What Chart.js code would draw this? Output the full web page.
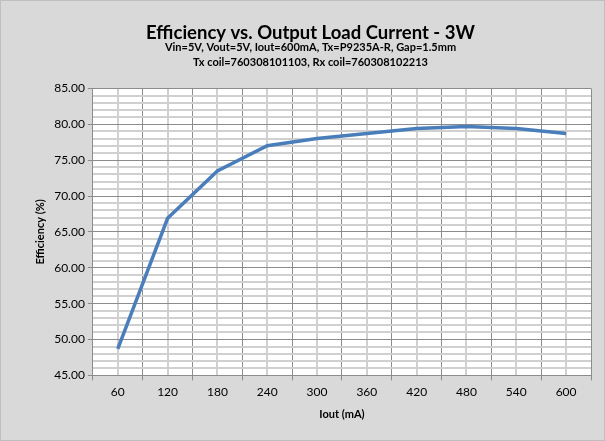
<!DOCTYPE html>
<html>
<head>
<meta charset="utf-8">
<script src="https://cdn.jsdelivr.net/npm/chart.js@4/dist/chart.umd.min.js"></script>
<style>
  html, body { margin: 0; padding: 0; background: #fff; }
  #wrap { width: 605px; height: 441px; }
</style>
</head>
<body>
<div id="wrap"><canvas id="myChart" width="605" height="441"></canvas></div>
<script>
var currentLabels = ['60', '120', '180', '240', '300', '360', '420', '480', '540', '600'];
var efficiencyValues = [48.7, 66.9, 73.5, 77.0, 78.0, 78.7, 79.4, 79.7, 79.4, 78.7];
var yMin = 45;
var yMax = 85;

// grey chart background, white plot area and the light minor grid
var backdrop = {
    id: 'backdrop',
    beforeDraw: function (chart) {
        var c = chart.ctx;
        var a = chart.chartArea;
        c.save();
        c.fillStyle = '#d9d9d9';
        c.fillRect(0, 0, chart.width, chart.height);
        c.strokeStyle = '#bfbfbf';
        c.lineWidth = 1;
        c.strokeRect(0.5, 0.5, chart.width - 1, chart.height - 1);
        c.fillStyle = '#ffffff';
        c.fillRect(a.left, a.top, a.right - a.left, a.bottom - a.top);
        c.strokeStyle = '#d0d0d0';
        c.lineWidth = 2;
        var x = chart.scales.x;
        for (var i = 0; i < currentLabels.length; i++) {
            var px = Math.round(x.getPixelForValue(i));
            c.beginPath();
            c.moveTo(px, a.top);
            c.lineTo(px, a.bottom);
            c.stroke();
        }
        c.restore();
    }
};

new Chart("myChart", {
    type: "line",
    data: {
        labels: currentLabels,
        datasets: [{
            label: "Efficiency",
            data: efficiencyValues,
            borderColor: '#4a7ebb',
            borderWidth: 3.5,
            pointRadius: 0,
            tension: 0,
            fill: false
        }]
    },
    plugins: [backdrop],
    options: {
        responsive: false,
        animation: false,
        layout: { padding: { left: 30, right: 14, top: 8, bottom: 16 } },
        plugins: {
            legend: { display: false },
            tooltip: { enabled: false },
            title: {
                display: true,
                text: "Efficiency vs. Output Load Current - 3W",
                color: '#000',
                font: { family: 'Lato', size: 18.5, weight: 'bold', lineHeight: 0.68 },
                padding: { top: 19, bottom: 0 }
            },
            subtitle: {
                display: true,
                text: ["Vin=5V, Vout=5V, Iout=600mA, Tx=P9235A-R, Gap=1.5mm", "Tx coil=760308101103, Rx coil=760308102213"],
                color: '#000',
                font: { family: 'Lato', size: 11, weight: 'bold', lineHeight: 1.4 },
                padding: { top: 0, bottom: 18 }
            }
        },
        scales: {
            x: {
                offset: true,
                grid: {
                    offset: true,
                    color: '#8c8c8c',
                    lineWidth: 1,
                    tickLength: 5,
                    tickColor: '#8c8c8c',
                    drawOnChartArea: true
                },
                border: { display: true, color: '#8c8c8c', width: 1 },
                ticks: { color: '#000', font: { family: 'Lato', size: 12 }, padding: 5 },
                title: {
                    display: true,
                    text: 'Iout (mA)',
                    color: '#000',
                    font: { family: 'Lato', size: 11, weight: 'bold' },
                    padding: { top: 3 }
                }
            },
            y: {
                min: yMin,
                max: yMax,
                grid: {
                    color: function (ctx) {
                        return ctx.tick && ctx.tick.value % 5 === 0 ? '#8c8c8c' : '#d0d0d0';
                    },
                    lineWidth: function (ctx) {
                        return ctx.tick && ctx.tick.value % 5 === 0 ? 1 : 2;
                    },
                    tickColor: function (ctx) {
                        return ctx.tick && ctx.tick.value % 5 === 0 ? '#8c8c8c' : 'rgba(0,0,0,0)';
                    },
                    tickLength: 5
                },
                border: { display: true, color: '#8c8c8c', width: 1 },
                ticks: {
                    stepSize: 1,
                    autoSkip: false,
                    color: '#000',
                    font: { family: 'Lato', size: 12 },
                    padding: 3,
                    callback: function (v) {
                        return v % 5 === 0 ? v.toFixed(2) : '';
                    }
                },
                title: {
                    display: true,
                    text: 'Efficiency (%)',
                    color: '#000',
                    font: { family: 'Lato', size: 11, weight: 'bold' },
                    padding: { bottom: 4 }
                }
            }
        }
    }
});
</script>
</body>
</html>
